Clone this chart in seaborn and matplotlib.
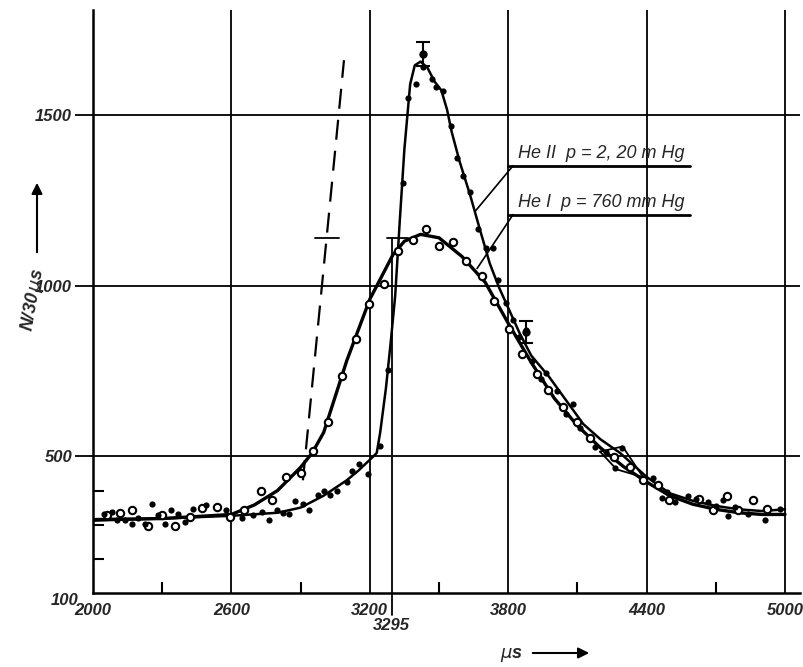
import numpy as np
import pandas as pd
import matplotlib
matplotlib.use("Agg")
import matplotlib.pyplot as plt
import seaborn as sns
from matplotlib import font_manager

# ---------------- data ----------------
he1_x = [2059, 2117, 2168, 2240, 2298, 2355, 2420, 2474, 2539, 2594, 2654, 2727, 2775, 2837, 2900,
         2955, 3020, 3078, 3140, 3198, 3261, 3323, 3388, 3443, 3501, 3559, 3617, 3685, 3738, 3805,
         3858, 3926, 3974, 4036, 4099, 4154, 4258, 4328, 4385, 4451, 4498, 4628, 4689, 4750, 4797,
         4862, 4920]
he1_y = [329, 334, 342, 295, 327, 295, 322, 349, 353, 322, 344, 398, 371, 439, 451,
         515, 601, 736, 845, 946, 1006, 1100, 1134, 1165, 1115, 1127, 1072, 1029, 954, 872,
         799, 740, 694, 645, 602, 553, 497, 470, 431, 417, 373, 376, 342, 383, 342,
         371, 347]

he2_x = [2048, 2081, 2103, 2139, 2168, 2197, 2225, 2254, 2283, 2312, 2337, 2370, 2399, 2435, 2490,
         2577, 2644, 2695, 2731, 2764, 2796, 2822, 2850, 2876, 2909, 2938, 2977, 3001, 3027, 3059,
         3099, 3121, 3154, 3193, 3244, 3280, 3342, 3367, 3400, 3429, 3432, 3468, 3489, 3518, 3552,
         3576, 3605, 3634, 3670, 3703, 3735, 3757, 3790, 3819, 3848, 3877, 3902, 3941, 3964, 4013,
         4050, 4079, 4111, 4176, 4224, 4263, 4292, 4429, 4465, 4487, 4523, 4581, 4616, 4667, 4703,
         4732, 4754, 4783, 4841, 4913, 4978]
he2_y = [332, 337, 315, 315, 303, 321, 301, 362, 329, 303, 344, 332, 308, 347, 359,
         344, 321, 327, 337, 315, 344, 334, 330, 368, 362, 344, 386, 398, 386, 400,
         425, 457, 478, 449, 529, 753, 1299, 1549, 1591, 1678, 1639, 1604, 1581, 1569, 1467,
         1374, 1322, 1273, 1166, 1110, 1110, 1017, 950, 898, 849, 869, 779, 726, 745, 690,
         624, 653, 583, 527, 512, 466, 525, 437, 379, 395, 366, 383, 376, 366, 354,
         371, 324, 352, 332, 313, 347]

# fitted curves
he1_cx = [2000, 2300, 2600, 2700, 2800, 2900, 2950, 3000, 3100, 3200, 3300, 3350, 3420, 3500,
          3600, 3700, 3800, 3900, 4000, 4100, 4200, 4300, 4400, 4500, 4600, 4700, 4800, 4900, 5000]
he1_cy = [315, 318, 330, 358, 400, 468, 510, 570, 780, 960, 1090, 1130, 1150, 1140,
          1085, 1010, 890, 775, 670, 590, 525, 470, 425, 385, 360, 345, 335, 330, 330]

he2_cx = [2000, 2300, 2600, 2800, 2900, 3000, 3100, 3150, 3200, 3230, 3245, 3270, 3290, 3310,
          3330, 3350, 3375, 3395, 3420, 3450, 3480, 3510, 3535, 3555, 3590, 3635, 3680, 3720,
          3760, 3800, 3850, 3900, 3975, 4050, 4125, 4200, 4285, 4400, 4500, 4600, 4700, 4800,
          4900, 5000]
he2_cy = [312, 318, 326, 335, 350, 385, 430, 458, 490, 510, 570, 700, 830, 970,
          1190, 1400, 1590, 1645, 1656, 1638, 1598, 1572, 1515, 1450, 1362, 1265, 1158, 1065,
          995, 935, 860, 795, 735, 665, 595, 550, 510, 440, 392, 370, 355, 345,
          340, 345]

dash_x = [2910, 3088]
dash_y = [430, 1660]

err_x = [3429, 3877]
err_y = [1678, 865]
err_e = [35, 32]

box_x = [4198, 4296, 4385, 4270, 4198]
box_y = [514, 529, 439, 462, 514]

xticks = [2000, 2600, 3200, 3800, 4400, 5000]
xminor = [2300, 2900, 3500, 4100, 4700]
yticks = [500, 1000, 1500]
yminor = [200, 300, 400]

label_he2 = "He II  p = 2, 20 m Hg"
label_he1 = "He I  p = 760 mm Hg"

# ---------------- style ----------------
sns.set_theme(style="white")
names = {f.name for f in font_manager.fontManager.ttflist}
fam = "Liberation Sans Narrow" if "Liberation Sans Narrow" in names else "Liberation Sans"
plt.rcParams["font.family"] = [fam, "DejaVu Sans"]

fig = plt.figure(figsize=(8.04, 6.67), dpi=100)
ax = fig.add_axes([93 / 804, 1 - 593 / 667, (800 - 93) / 804, (593 - 10) / 667])
ax.set_xlim(2000, 5065)
ax.set_ylim(100, 1807)

# curves
c1 = pd.DataFrame({"x": he1_cx, "y": he1_cy})
c2 = pd.DataFrame({"x": he2_cx, "y": he2_cy})
sns.lineplot(data=c1, x="x", y="y", ax=ax, color="black", lw=2.4, sort=False)
sns.lineplot(data=c2, x="x", y="y", ax=ax, color="black", lw=1.8, sort=False)

# points
p1 = pd.DataFrame({"x": he1_x, "y": he1_y})
p2 = pd.DataFrame({"x": he2_x, "y": he2_y})
sns.scatterplot(data=p1, x="x", y="y", ax=ax, s=28, facecolor="white", edgecolor="black",
                linewidth=1.5, zorder=4)
sns.scatterplot(data=p2, x="x", y="y", ax=ax, s=20, color="black", edgecolor="black",
                linewidth=0, zorder=5)

# dashed line
ax.plot(dash_x, dash_y, color="black", lw=1.6, dashes=(9, 5))

# error bars
ax.errorbar(err_x, err_y, yerr=err_e, fmt="o", color="black", ms=5, capsize=5, elinewidth=1.5,
            capthick=1.5, zorder=6)
ax.plot(box_x, box_y, color="black", lw=1.3, zorder=6)

# horizontal error bars at 1140
ax.plot([2962, 3066], [1140, 1140], color="black", lw=1.3)
ax.plot([3274, 3366], [1140, 1140], color="black", lw=1.3)

# vertical marker at 3295
ax.plot([3295, 3295], [36, 1140], color="black", lw=1.3, clip_on=False, zorder=3)
ax.text(3295, 4, "3295", ha="center", va="center", fontsize=12, style="italic",
        fontweight="bold", clip_on=False)

# grid
for xv in xticks[1:]:
    ax.axvline(xv, color="black", lw=1.3, zorder=1)
for yv in yticks:
    ax.axhline(yv, color="black", lw=1.3, zorder=1)

# spines
for s in ["top", "right"]:
    ax.spines[s].set_visible(False)
for s in ["left", "bottom"]:
    ax.spines[s].set_color("black")
    ax.spines[s].set_linewidth(1.8)

ax.set_xticks(xticks)
ax.set_xticks(xminor, minor=True)
ax.set_yticks(yticks)
ax.set_yticks(yminor, minor=True)
ax.set_xticklabels([str(v) for v in xticks], fontsize=12, style="italic", fontweight="bold")
ax.set_yticklabels([str(v) for v in yticks], fontsize=12, style="italic", fontweight="bold")
ax.tick_params(axis="x", which="major", length=0, pad=7)
ax.tick_params(axis="x", which="minor", direction="in", length=8, width=1.5, color="black",
               bottom=True)
ax.tick_params(axis="y", which="major", direction="out", length=13, width=1.3, color="black",
               left=True, pad=2)
ax.tick_params(axis="y", which="minor", direction="in", length=8, width=1.5, color="black",
               left=True)
ax.text(-0.02, 100, "100", transform=ax.get_yaxis_transform(), ha="right", va="top",
        fontsize=12, style="italic", fontweight="bold")

ax.set_xlabel("")
ax.set_ylabel("")

# axis labels with arrows
fig.text(33 / 804, 1 - 300 / 667, r"N/30$\,\mu$s", rotation=80, ha="center", va="center",
         fontsize=13, style="italic", fontweight="bold")
fig.patches.append(matplotlib.patches.FancyArrowPatch(
    (37 / 804, 1 - 255 / 667), (37 / 804, 1 - 180 / 667), transform=fig.transFigure,
    arrowstyle="-|>", mutation_scale=16, color="black", lw=1.5))
fig.text(512 / 804, 1 - 655 / 667, r"$\mu$s", ha="center", va="center", fontsize=13,
         style="italic", fontweight="bold")
fig.patches.append(matplotlib.patches.FancyArrowPatch(
    (530 / 804, 1 - 653 / 667), (592 / 804, 1 - 653 / 667), transform=fig.transFigure,
    arrowstyle="-|>", mutation_scale=16, color="black", lw=1.5))

# labels with leader lines
ax.plot([3800, 4588], [1351, 1351], color="black", lw=2)
ax.plot([3821, 3656], [1351, 1217], color="black", lw=1.2)
ax.text(3842, 1362, label_he2, ha="left", va="bottom", fontsize=13, style="italic")
ax.plot([3800, 4588], [1208, 1208], color="black", lw=2)
ax.plot([3821, 3665], [1208, 1050], color="black", lw=1.2)
ax.text(3842, 1219, label_he1, ha="left", va="bottom", fontsize=13, style="italic")

fig.savefig("out.png", dpi=100)
